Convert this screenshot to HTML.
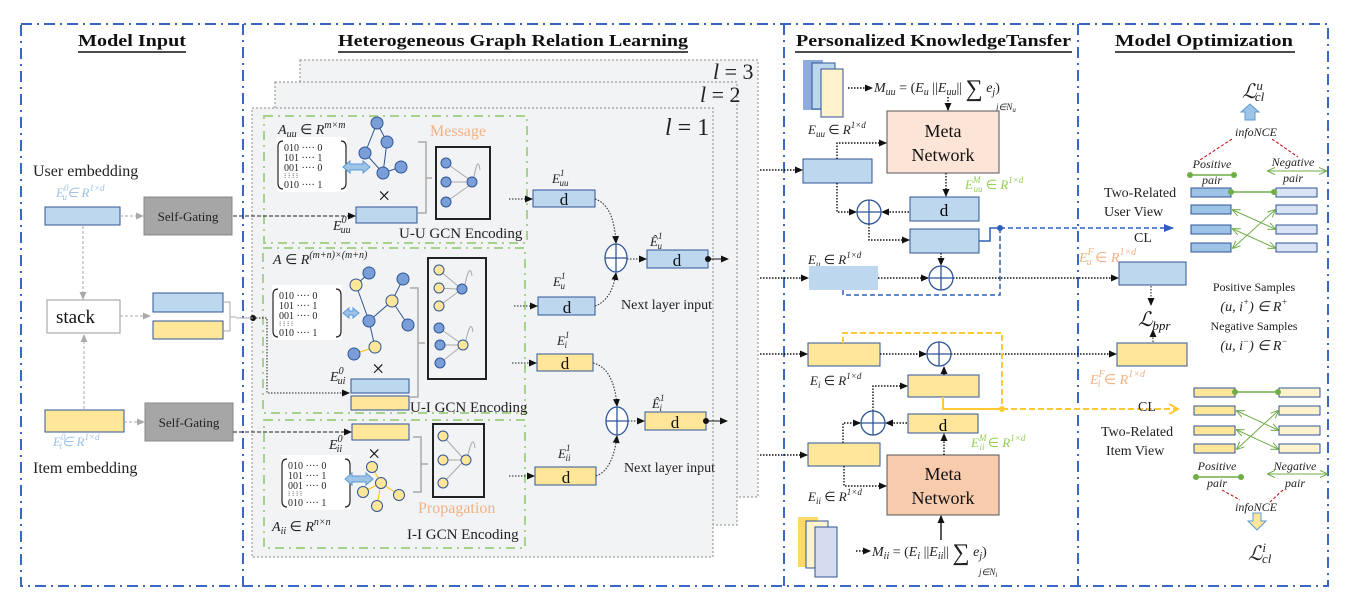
<!DOCTYPE html>
<html><head><meta charset="utf-8"><style>
html,body{margin:0;padding:0;background:#fff;}
svg{display:block;}
text{font-family:"Liberation Serif",serif;}
.it{font-style:italic;}
</style></head><body>
<svg width="1347" height="604" viewBox="0 0 1347 604" xmlns="http://www.w3.org/2000/svg">
<defs>
<marker id="ak" markerWidth="8" markerHeight="8" refX="7" refY="4" orient="auto" markerUnits="userSpaceOnUse"><path d="M0,0.5 L8,4 L0,7.5 z" fill="#111"/></marker>
<marker id="ag" markerWidth="8" markerHeight="8" refX="7" refY="4" orient="auto" markerUnits="userSpaceOnUse"><path d="M0,0.5 L8,4 L0,7.5 z" fill="#aaa"/></marker>
<marker id="ab" markerWidth="10" markerHeight="10" refX="9" refY="5" orient="auto" markerUnits="userSpaceOnUse"><path d="M0,1 L10,5 L0,9 z" fill="#2f5fb8"/></marker>
<marker id="ay" markerWidth="12" markerHeight="12" refX="10" refY="6" orient="auto" markerUnits="userSpaceOnUse"><path d="M1,1 L10,6 L1,11" fill="none" stroke="#ffc936" stroke-width="2"/></marker>
<marker id="agr" markerWidth="8" markerHeight="8" refX="7" refY="4" orient="auto-start-reverse" markerUnits="userSpaceOnUse"><path d="M0,0.5 L8,4 L0,7.5" fill="none" stroke="#70ad47" stroke-width="1"/></marker>
<g id="mat">
<rect x="0" y="0" width="70" height="55" fill="#fff"/>
<path d="M6,4 Q1,4 1,10 L1,46 Q1,52 6,52" fill="none" stroke="#222" stroke-width="1.2"/>
<path d="M64,4 Q69,4 69,10 L69,46 Q69,52 64,52" fill="none" stroke="#222" stroke-width="1.2"/>
<g font-family="Liberation Sans" font-size="10" fill="#222">
<text x="7" y="14">010 ···· 0</text>
<text x="7" y="24">101 ···· 1</text>
<text x="7" y="34">001 ···· 0</text>
<text x="7" y="41" font-size="7">⁝ ⁝ ⁝         ⁝</text>
<text x="7" y="51">010 ···· 1</text>
</g>
</g>
</defs>

<!-- outer panels -->
<g fill="none" stroke="#3a66c4" stroke-width="2" stroke-dasharray="11,5,2,5">
<rect x="21" y="24" width="1307" height="562"/>
<line x1="243" y1="24" x2="243" y2="586"/>
<line x1="784" y1="24" x2="784" y2="586"/>
<line x1="1078" y1="24" x2="1078" y2="586"/>
</g>

<!-- titles -->
<g font-weight="bold" font-size="17" fill="#111">
<text x="78" y="46" textLength="108" lengthAdjust="spacingAndGlyphs">Model Input</text>
<text x="338" y="46" textLength="350" lengthAdjust="spacingAndGlyphs">Heterogeneous Graph Relation Learning</text>
<text x="796" y="46" textLength="275" lengthAdjust="spacingAndGlyphs">Personalized KnowledgeTansfer</text>
<text x="1115" y="46" textLength="178" lengthAdjust="spacingAndGlyphs">Model  Optimization</text>
</g>
<g stroke="#111" stroke-width="1.5">
<line x1="78" y1="52" x2="186" y2="52"/><line x1="338" y1="52" x2="688" y2="52"/>
<line x1="795" y1="52" x2="1072" y2="52"/><line x1="1115" y1="52" x2="1295" y2="52"/>
</g>

<!-- Model input -->
<text x="33" y="176" font-size="16" fill="#222">User embedding</text>
<text x="56" y="197" font-size="13" fill="#9dc3e6" class="it">E<tspan font-size="9" dy="-6">0</tspan><tspan font-size="9" dx="-6" dy="9">u</tspan><tspan dy="-3">∈ R</tspan><tspan font-size="9" dy="-6">1×d</tspan></text>
<rect x="45" y="207" width="75" height="18" fill="#bdd7ee" stroke="#2f5597" stroke-width="1"/>
<rect x="144" y="197" width="88" height="38" fill="#a6a6a6" stroke="#888"/>
<text x="188" y="221" font-size="13" text-anchor="middle" fill="#222">Self-Gating</text>
<line x1="120" y1="216" x2="143" y2="216" stroke="#aaa" stroke-dasharray="3,2" marker-end="url(#ag)"/>
<line x1="83" y1="226" x2="83" y2="299" stroke="#aaa" stroke-dasharray="3,2" marker-end="url(#ag)"/>
<rect x="47" y="300" width="73" height="33" fill="#fff" stroke="#999"/>
<text x="56" y="323" font-size="19" fill="#111">stack</text>
<line x1="120" y1="316" x2="150" y2="316" stroke="#aaa" stroke-dasharray="3,2" marker-end="url(#ag)"/>
<rect x="153" y="293" width="70" height="19" fill="#bdd7ee" stroke="#2f5597"/>
<rect x="153" y="321" width="70" height="18" fill="#ffe699" stroke="#2f5597"/>
<path d="M224,302 L230,302 L230,331 L224,331 M230,317 L236,317" fill="none" stroke="#aaa"/>
<rect x="45" y="410" width="79" height="22" fill="#ffe699" stroke="#2f5597"/>
<line x1="84" y1="409" x2="84" y2="335" stroke="#aaa" stroke-dasharray="3,2" marker-end="url(#ag)"/>
<line x1="124" y1="422" x2="144" y2="422" stroke="#aaa" stroke-dasharray="3,2" marker-end="url(#ag)"/>
<rect x="145" y="403" width="88" height="38" fill="#a6a6a6" stroke="#888"/>
<text x="189" y="427" font-size="13" text-anchor="middle" fill="#222">Self-Gating</text>
<text x="53" y="446" font-size="13" fill="#9dc3e6" class="it">E<tspan font-size="9" dy="-6">0</tspan><tspan font-size="9" dx="-6" dy="9">i</tspan><tspan dy="-3">∈ R</tspan><tspan font-size="9" dy="-6">1×d</tspan></text>
<text x="33" y="473" font-size="16" fill="#222">Item embedding</text>

<!-- layer sheets -->
<rect x="300" y="60" width="458" height="437" fill="#f2f3f5" stroke="#888" stroke-dasharray="2,2"/>
<rect x="275" y="82" width="462" height="443" fill="#f2f3f5" stroke="#888" stroke-dasharray="2,2"/>
<rect x="252" y="108" width="461" height="449" fill="#f2f3f5" stroke="#888" stroke-dasharray="2,2"/>
<text x="713" y="79" font-size="22" class="it" fill="#222">l <tspan font-style="normal">= 3</tspan></text>
<text x="700" y="102" font-size="22" class="it" fill="#222">l <tspan font-style="normal">= 2</tspan></text>
<text x="665" y="135" font-size="24" class="it" fill="#222">l <tspan font-style="normal">= 1</tspan></text>

<g fill="none" stroke="#a9d18e" stroke-width="2" stroke-dasharray="9,5,2,5">
<rect x="264" y="116" width="263" height="127"/>
<rect x="263" y="248" width="262" height="165"/>
<rect x="264" y="420" width="261" height="128"/>
</g>

<!-- U-U -->
<text x="278" y="134" font-size="14" class="it" fill="#222">A<tspan font-size="10" dy="3">uu</tspan><tspan dy="-3" font-style="normal"> ∈ </tspan>R<tspan font-size="10" dy="-6">m×m</tspan></text>
<use href="#mat" x="277" y="137"/>
<g stroke="#2f5597" stroke-width="1"><line x1="377" y1="123" x2="387" y2="142"/><line x1="377" y1="123" x2="365" y2="153"/><line x1="387" y1="142" x2="383" y2="173"/><line x1="365" y1="153" x2="383" y2="173"/><line x1="383" y1="173" x2="401" y2="167"/></g>
<g fill="#7a9fd8" stroke="#2f5597"><circle cx="377" cy="123" r="6"/><circle cx="387" cy="142" r="6"/><circle cx="365" cy="153" r="6"/><circle cx="383" cy="173" r="6"/><circle cx="401" cy="167" r="6"/></g>
<path d="M343,167 L350,161 L350,164 L363,164 L363,161 L370,167 L363,173 L363,170 L350,170 L350,173 Z" fill="#9dc3e6" stroke="#5b9bd5"/>
<text x="378" y="203" font-size="22" fill="#111">×</text>
<text x="430" y="136" font-size="16" fill="#f4b183">Message</text>
<rect x="356" y="207" width="61" height="16" fill="#bdd7ee" stroke="#2f5597"/>
<path d="M418,142 L426,142 L426,213 L418,213 M426,178 L432,178" fill="none" stroke="#aaa" stroke-width="1.5"/>
<rect x="436" y="147" width="54" height="72" fill="none" stroke="#222" stroke-width="2"/>
<g stroke="#aaa"><line x1="446" y1="163" x2="470" y2="180"/><line x1="446" y1="182" x2="466" y2="182"/><line x1="446" y1="202" x2="470" y2="185"/><path d="M474,177 Q478,155 480,170" fill="none"/></g>
<g fill="#7a9fd8" stroke="#2f5597"><circle cx="446" cy="163" r="5"/><circle cx="446" cy="182" r="5"/><circle cx="446" cy="202" r="5"/><circle cx="472" cy="182" r="5"/></g>
<text x="333" y="230" font-size="14" class="it" fill="#222">E<tspan font-size="10" dy="-7">0</tspan><tspan font-size="10" dx="-6" dy="10">uu</tspan></text>
<text x="399" y="238" font-size="15" fill="#222">U-U GCN Encoding</text>
<line x1="233" y1="216" x2="355" y2="216" stroke="#222" stroke-dasharray="4,2" marker-end="url(#ak)"/>

<!-- U-I -->
<text x="273" y="264" font-size="14" class="it" fill="#222">A<tspan font-style="normal"> ∈ </tspan>R<tspan font-size="10" dy="-6">(m+n)×(m+n)</tspan></text>
<use href="#mat" x="272" y="285"/>
<g stroke="#2f5597" stroke-width="1"><line x1="369" y1="273" x2="356" y2="285"/><line x1="356" y1="285" x2="369" y2="321"/><line x1="369" y1="321" x2="392" y2="301"/><line x1="392" y1="301" x2="403" y2="279"/><line x1="392" y1="301" x2="408" y2="325"/><line x1="369" y1="321" x2="375" y2="347"/></g>
<line x1="375" y1="347" x2="354" y2="354" stroke="#ffc000"/>
<g stroke="#2f5597"><circle cx="369" cy="273" r="6" fill="#7a9fd8"/><circle cx="356" cy="285" r="6" fill="#ffe699"/><circle cx="403" cy="279" r="6" fill="#7a9fd8"/><circle cx="392" cy="301" r="6" fill="#ffe699"/><circle cx="369" cy="321" r="6" fill="#7a9fd8"/><circle cx="408" cy="325" r="6" fill="#7a9fd8"/><circle cx="375" cy="347" r="6" fill="#ffe699"/><circle cx="354" cy="354" r="6" fill="#7a9fd8"/></g>
<path d="M343,313 L349,308 L349,311 L353,311 L353,308 L359,313 L353,318 L353,315 L349,315 L349,318 Z" fill="#9dc3e6" stroke="#5b9bd5"/>
<text x="372" y="376" font-size="22" fill="#111">×</text>
<rect x="351" y="379" width="58" height="14" fill="#bdd7ee" stroke="#2f5597"/>
<rect x="351" y="396" width="58" height="14" fill="#ffe699" stroke="#2f5597"/>
<path d="M410,288 L418,288 L418,397 L410,397 M418,343 L425,343" fill="none" stroke="#aaa" stroke-width="1.5"/>
<rect x="428" y="258" width="58" height="121" fill="none" stroke="#222" stroke-width="2"/>
<g stroke="#aaa"><line x1="439" y1="270" x2="458" y2="286"/><line x1="439" y1="288" x2="457" y2="289"/><line x1="439" y1="306" x2="458" y2="292"/><path d="M465,284 Q470,262 472,276" fill="none"/><line x1="439" y1="328" x2="459" y2="342"/><line x1="440" y1="345" x2="458" y2="345"/><line x1="440" y1="363" x2="459" y2="348"/><path d="M466,340 Q471,318 473,332" fill="none"/></g>
<g stroke="#2f5597"><circle cx="439" cy="270" r="5" fill="#ffe699"/><circle cx="439" cy="288" r="5" fill="#ffe699"/><circle cx="439" cy="306" r="5" fill="#ffe699"/><circle cx="462" cy="289" r="5" fill="#7a9fd8"/><circle cx="439" cy="328" r="5" fill="#7a9fd8"/><circle cx="440" cy="345" r="5" fill="#7a9fd8"/><circle cx="440" cy="363" r="5" fill="#7a9fd8"/><circle cx="463" cy="345" r="5" fill="#ffe699"/></g>
<text x="330" y="381" font-size="14" class="it" fill="#222">E<tspan font-size="10" dy="-7">0</tspan><tspan font-size="10" dx="-6" dy="10">ui</tspan></text>
<text x="410" y="412" font-size="15" fill="#222">U-I GCN Encoding</text>
<circle cx="253" cy="318" r="3" fill="#111"/>
<path d="M236,318 L253,318" stroke="#aaa"/>
<path d="M253,318 L267,318 L267,393 L349,393" fill="none" stroke="#222" stroke-dasharray="1.5,1.5" marker-end="url(#ak)"/>

<!-- I-I -->
<line x1="233" y1="432" x2="351" y2="432" stroke="#222" stroke-dasharray="4,2" marker-end="url(#ak)"/>
<rect x="352" y="424" width="57" height="16" fill="#ffe699" stroke="#2f5597"/>
<text x="329" y="449" font-size="14" class="it" fill="#222">E<tspan font-size="10" dy="-7">0</tspan><tspan font-size="10" dx="-6" dy="10">ii</tspan></text>
<text x="368" y="461" font-size="22" fill="#111">×</text>
<use href="#mat" x="281" y="455"/>
<g stroke="#ffc000"><line x1="372" y1="467" x2="381" y2="483"/><line x1="381" y1="483" x2="399" y2="495"/><line x1="381" y1="483" x2="363" y2="492"/><line x1="381" y1="483" x2="377" y2="506"/></g>
<g fill="#ffe699" stroke="#2f5597"><circle cx="372" cy="467" r="5.5"/><circle cx="381" cy="483" r="5.5"/><circle cx="399" cy="495" r="5.5"/><circle cx="363" cy="492" r="5.5"/><circle cx="377" cy="506" r="5.5"/></g>
<path d="M345,479 L352,473 L352,476 L366,476 L366,473 L373,479 L366,485 L366,482 L352,482 L352,485 Z" fill="#9dc3e6" stroke="#5b9bd5"/>
<path d="M413,437 L421,437 L421,492 L413,492 M421,464 L428,464" fill="none" stroke="#aaa" stroke-width="1.5"/>
<rect x="433" y="424" width="51" height="73" fill="none" stroke="#222" stroke-width="2"/>
<g stroke="#aaa"><line x1="443" y1="436" x2="462" y2="457"/><line x1="443" y1="460" x2="461" y2="460"/><line x1="443" y1="483" x2="462" y2="463"/><path d="M468,455 Q473,433 475,448" fill="none"/></g>
<g fill="#ffe699" stroke="#2f5597"><circle cx="443" cy="436" r="5"/><circle cx="443" cy="460" r="5"/><circle cx="443" cy="483" r="5"/><circle cx="466" cy="460" r="5"/></g>
<text x="418" y="513" font-size="16" fill="#f4b183">Propagation</text>
<text x="272" y="531" font-size="14" class="it" fill="#222">A<tspan font-size="10" dy="3">ii</tspan><tspan dy="-3" font-style="normal"> ∈ </tspan>R<tspan font-size="10" dy="-6">n×n</tspan></text>
<text x="407" y="539" font-size="15" fill="#222">I-I GCN Encoding</text>

<!-- middle outputs -->
<g font-size="13" class="it" fill="#222">
<text x="552" y="183">E<tspan font-size="9" dy="-7">1</tspan><tspan font-size="9" dx="-5" dy="10">uu</tspan></text>
<text x="553" y="286">E<tspan font-size="9" dy="-7">1</tspan><tspan font-size="9" dx="-5" dy="10">u</tspan></text>
<text x="557" y="345">E<tspan font-size="9" dy="-7">1</tspan><tspan font-size="9" dx="-5" dy="10">i</tspan></text>
<text x="558" y="458">E<tspan font-size="9" dy="-7">1</tspan><tspan font-size="9" dx="-5" dy="10">ii</tspan></text>
<text x="650" y="246">Ê<tspan font-size="9" dy="-7">1</tspan><tspan font-size="9" dx="-5" dy="10">u</tspan></text>
<text x="652" y="408">Ê<tspan font-size="9" dy="-7">1</tspan><tspan font-size="9" dx="-5" dy="10">i</tspan></text>
</g>
<g stroke="#2f5597">
<rect x="533" y="190" width="62" height="17" fill="#bdd7ee"/>
<rect x="538" y="297" width="57" height="18" fill="#bdd7ee"/>
<rect x="537" y="354" width="56" height="17" fill="#ffe699"/>
<rect x="535" y="467" width="61" height="18" fill="#ffe699"/>
<rect x="647" y="250" width="61" height="18" fill="#bdd7ee"/>
<rect x="645" y="412" width="61" height="18" fill="#ffe699"/>
</g>
<g font-size="17" text-anchor="middle" fill="#111">
<text x="564" y="205">d</text><text x="567" y="313">d</text><text x="565" y="369">d</text><text x="566" y="483">d</text><text x="677" y="266">d</text><text x="675" y="428">d</text>
</g>
<g stroke="#222" stroke-dasharray="1.5,1.5" fill="none">
<line x1="509" y1="199" x2="532" y2="199" marker-end="url(#ak)"/>
<line x1="514" y1="306" x2="537" y2="306" marker-end="url(#ak)"/>
<line x1="512" y1="363" x2="536" y2="363" marker-end="url(#ak)"/>
<line x1="509" y1="476" x2="534" y2="476" marker-end="url(#ak)"/>
<path d="M595,199 Q614,205 616,243" marker-end="url(#ak)"/>
<path d="M595,306 Q612,300 616,273" marker-end="url(#ak)"/>
<path d="M593,363 Q614,368 617,406" marker-end="url(#ak)"/>
<path d="M596,476 Q613,470 617,436" marker-end="url(#ak)"/>
<line x1="627" y1="259" x2="646" y2="259" marker-end="url(#ak)"/>
<line x1="628" y1="421" x2="644" y2="421" marker-end="url(#ak)"/>
</g>
<g fill="#fff" stroke="#2f5597" stroke-width="1.3">
<ellipse cx="616" cy="258" rx="11" ry="14"/><line x1="605" y1="258" x2="627" y2="258"/><line x1="616" y1="244" x2="616" y2="272"/>
<ellipse cx="617" cy="421" rx="11" ry="14"/><line x1="606" y1="421" x2="628" y2="421"/><line x1="617" y1="407" x2="617" y2="435"/>
</g>
<circle cx="708" cy="259" r="3" fill="#111"/><line x1="708" y1="259" x2="728" y2="259" stroke="#111" marker-end="url(#ak)"/>
<circle cx="706" cy="421" r="3" fill="#111"/><line x1="706" y1="421" x2="727" y2="421" stroke="#111" marker-end="url(#ak)"/>
<text x="621" y="309" font-size="14" fill="#222">Next layer input</text>
<text x="624" y="472" font-size="14" fill="#222">Next layer input</text>

<!-- Panel 3 -->
<rect x="803" y="60" width="20" height="50" fill="#8faadc"/>
<rect x="812" y="63" width="23" height="46" fill="#bdd7ee" stroke="#2f5597"/>
<rect x="821" y="69" width="22" height="48" fill="#fff2cc" stroke="#2f5597"/>
<text x="874" y="92" font-size="14" class="it" fill="#222">M<tspan font-size="10" dy="3">uu</tspan><tspan dy="-3" font-style="normal"> = (</tspan>E<tspan font-size="10" dy="3">u</tspan><tspan dy="-3" font-style="normal"> ||</tspan>E<tspan font-size="10" dy="3">uu</tspan><tspan dy="-3" font-style="normal">|| </tspan><tspan font-style="normal" font-size="24" dy="4">∑</tspan><tspan dy="-4"> e</tspan><tspan font-size="10" dy="3">j</tspan><tspan dy="-3" font-style="normal">)</tspan></text>
<text x="996" y="110" font-size="9" class="it" fill="#222">j∈N<tspan font-size="7" dy="2">u</tspan></text>
<rect x="887" y="111" width="112" height="62" fill="#fce4d6" stroke="#555"/>
<text x="943" y="137" font-size="18" text-anchor="middle" fill="#111">Meta</text>
<text x="943" y="161" font-size="18" text-anchor="middle" fill="#111">Network</text>
<text x="808" y="134" font-size="13" class="it" fill="#222">E<tspan font-size="9" dy="3">uu</tspan><tspan dy="-3" font-style="normal"> ∈ </tspan>R<tspan font-size="9" dy="-6">1×d</tspan></text>
<rect x="803" y="159" width="69" height="24" fill="#bdd7ee" stroke="#2f5597"/>
<text x="965" y="189" font-size="13" class="it" fill="#92d050">E<tspan font-size="9" dy="-6">M</tspan><tspan font-size="9" dx="-7" dy="9">uu</tspan><tspan dy="-3" font-style="normal"> ∈ </tspan>R<tspan font-size="9" dy="-6">1×d</tspan></text>
<rect x="910" y="197" width="69" height="24" fill="#bdd7ee" stroke="#2f5597"/>
<text x="944" y="216" font-size="17" text-anchor="middle">d</text>
<rect x="910" y="229" width="69" height="24" fill="#bdd7ee" stroke="#2f5597"/>
<text x="808" y="264" font-size="13" class="it" fill="#222">E<tspan font-size="9" dy="3">u</tspan><tspan dy="-3" font-style="normal"> ∈ </tspan>R<tspan font-size="9" dy="-6">1×d</tspan></text>
<rect x="809" y="266" width="69" height="24" fill="#bdd7ee"/>
<g stroke="#111" stroke-width="1.4" stroke-dasharray="1.5,1.5" fill="none">
<line x1="760" y1="170" x2="802" y2="170" marker-end="url(#ak)"/>
<line x1="760" y1="278" x2="808" y2="278" marker-end="url(#ak)"/>
<line x1="760" y1="354" x2="807" y2="354" marker-end="url(#ak)"/>
<line x1="760" y1="455" x2="807" y2="455" marker-end="url(#ak)"/>
<line x1="848" y1="88" x2="872" y2="88" marker-end="url(#ak)"/>
<line x1="948" y1="97" x2="948" y2="110" marker-end="url(#ak)"/>
<path d="M837,159 L837,143 L886,143" marker-end="url(#ak)"/>
<path d="M837,183 L837,212 L856,212" marker-end="url(#ak)"/>
<line x1="909" y1="212" x2="882" y2="212" marker-end="url(#ak)"/>
<line x1="946" y1="173" x2="946" y2="196" marker-end="url(#ak)"/>
<path d="M869,224 L869,240 L909,240" marker-end="url(#ak)"/>
<line x1="941" y1="253" x2="941" y2="265" marker-end="url(#ak)"/>
<line x1="878" y1="278" x2="928" y2="278" marker-end="url(#ak)"/>
<line x1="953" y1="278" x2="1118" y2="278" marker-end="url(#ak)"/>
</g>
<g fill="#fff" stroke="#2f5597" stroke-width="1.3">
<circle cx="869" cy="212" r="12"/><line x1="857" y1="212" x2="881" y2="212"/><line x1="869" y1="200" x2="869" y2="224"/>
<circle cx="941" cy="278" r="12"/><line x1="929" y1="278" x2="953" y2="278"/><line x1="941" y1="266" x2="941" y2="290"/>
</g>
<path d="M979,241 L990,241 L990,228 L1000,228" fill="none" stroke="#2f5fb8" stroke-width="1.5"/>
<path d="M843,290 L843,295 L1000,295 L1000,230" fill="none" stroke="#2f5fb8" stroke-width="1.5" stroke-dasharray="5,3"/>
<line x1="1000" y1="228" x2="1173" y2="228" stroke="#2f5fb8" stroke-width="1.5" stroke-dasharray="5,3" marker-end="url(#ab)"/>
<circle cx="1000" cy="228" r="3" fill="#2f5fb8"/>

<!-- yellow part -->
<rect x="808" y="343" width="72" height="23" fill="#ffe699" stroke="#2f5597"/>
<text x="810" y="385" font-size="13" class="it" fill="#222">E<tspan font-size="9" dy="3">i</tspan><tspan dy="-3" font-style="normal"> ∈ </tspan>R<tspan font-size="9" dy="-6">1×d</tspan></text>
<rect x="908" y="375" width="71" height="22" fill="#ffe699" stroke="#2f5597"/>
<rect x="908" y="414" width="70" height="19" fill="#ffe699" stroke="#2f5597"/>
<text x="943" y="431" font-size="17" text-anchor="middle">d</text>
<text x="971" y="447" font-size="13" class="it" fill="#92d050">E<tspan font-size="9" dy="-6">M</tspan><tspan font-size="9" dx="-7" dy="9">ii</tspan><tspan dy="-3" font-style="normal"> ∈ </tspan>R<tspan font-size="9" dy="-6">1×d</tspan></text>
<rect x="808" y="443" width="72" height="23" fill="#ffe699" stroke="#2f5597"/>
<rect x="887" y="455" width="112" height="60" fill="#f8cbad" stroke="#555"/>
<text x="943" y="480" font-size="18" text-anchor="middle" fill="#111">Meta</text>
<text x="943" y="504" font-size="18" text-anchor="middle" fill="#111">Network</text>
<text x="808" y="501" font-size="13" class="it" fill="#222">E<tspan font-size="9" dy="3">ii</tspan><tspan dy="-3" font-style="normal"> ∈ </tspan>R<tspan font-size="9" dy="-6">1×d</tspan></text>
<rect x="798" y="517" width="20" height="50" fill="#ffd966"/>
<rect x="806" y="521" width="22" height="47" fill="#fff2cc" stroke="#2f5597"/>
<rect x="815" y="527" width="22" height="50" fill="#d6dcf0" stroke="#2f5597"/>
<text x="872" y="556" font-size="14" class="it" fill="#222">M<tspan font-size="10" dy="3">ii</tspan><tspan dy="-3" font-style="normal"> = (</tspan>E<tspan font-size="10" dy="3">i</tspan><tspan dy="-3" font-style="normal"> ||</tspan>E<tspan font-size="10" dy="3">ii</tspan><tspan dy="-3" font-style="normal">|| </tspan><tspan font-style="normal" font-size="24" dy="4">∑</tspan><tspan dy="-4"> e</tspan><tspan font-size="10" dy="3">j</tspan><tspan dy="-3" font-style="normal">)</tspan></text>
<text x="979" y="575" font-size="9" class="it" fill="#222">j∈N<tspan font-size="7" dy="2">i</tspan></text>
<g stroke="#111" stroke-width="1.4" stroke-dasharray="1.5,1.5" fill="none">
<line x1="880" y1="354" x2="926" y2="354" marker-end="url(#ak)"/>
<line x1="951" y1="354" x2="1116" y2="354" marker-end="url(#ak)"/>
<line x1="944" y1="375" x2="944" y2="367" marker-end="url(#ak)"/>
<path d="M843,443 L843,423 L860,423" marker-end="url(#ak)"/>
<line x1="907" y1="423" x2="886" y2="423" marker-end="url(#ak)"/>
<path d="M873,411 L873,386 L907,386" marker-end="url(#ak)"/>
<line x1="944" y1="455" x2="944" y2="434" marker-end="url(#ak)"/>
<path d="M844,466 L844,486 L886,486" marker-end="url(#ak)"/>
<line x1="856" y1="551" x2="870" y2="551" marker-end="url(#ak)"/>
<line x1="941" y1="540" x2="941" y2="516" stroke-dasharray="none" marker-end="url(#ak)"/>
</g>
<g fill="#fff" stroke="#2f5597" stroke-width="1.3">
<circle cx="939" cy="354" r="12"/><line x1="927" y1="354" x2="951" y2="354"/><line x1="939" y1="342" x2="939" y2="366"/>
<circle cx="873" cy="423" r="12"/><line x1="861" y1="423" x2="885" y2="423"/><line x1="873" y1="411" x2="873" y2="435"/>
</g>
<path d="M843,343 L843,333 L1002,333 L1002,407" fill="none" stroke="#ffc936" stroke-width="2" stroke-dasharray="6,3"/>
<path d="M943,397 L943,409 L1000,409" fill="none" stroke="#ffc936" stroke-width="2"/>
<line x1="1002" y1="409" x2="1178" y2="409" stroke="#ffc936" stroke-width="2" stroke-dasharray="6,3" marker-end="url(#ay)"/>
<circle cx="1002" cy="409" r="3" fill="#ffc936"/>

<!-- Panel 4 -->
<text x="1242" y="98" font-size="20" class="it" fill="#222">ℒ<tspan font-size="13" dy="-8">u</tspan><tspan font-size="13" dx="-8" dy="11">cl</tspan></text>
<path d="M1245,120 L1245,112 L1241,112 L1250,104 L1259,112 L1255,112 L1255,120 Z" fill="#9dc3e6" stroke="#5b9bd5"/>
<text x="1256" y="136" font-size="12" class="it" text-anchor="middle" fill="#222">infoNCE</text>
<g stroke="#c00000" stroke-dasharray="3,2"><line x1="1232" y1="139" x2="1200" y2="160"/><line x1="1272" y1="139" x2="1298" y2="157"/></g>
<text x="1212" y="168" font-size="12" class="it" text-anchor="middle" fill="#222">Positive</text>
<text x="1293" y="166" font-size="12" class="it" text-anchor="middle" fill="#222">Negative</text>
<line x1="1190" y1="175" x2="1234" y2="175" stroke="#70ad47" stroke-width="1.5"/><circle cx="1190" cy="175" r="3" fill="#70ad47"/><circle cx="1234" cy="175" r="3" fill="#70ad47"/>
<line x1="1268" y1="171" x2="1326" y2="171" stroke="#70ad47" marker-start="url(#agr)" marker-end="url(#agr)"/>
<text x="1212" y="184" font-size="12" class="it" text-anchor="middle" fill="#222">pair</text>
<text x="1293" y="182" font-size="12" class="it" text-anchor="middle" fill="#222">pair</text>
<text x="1104" y="197" font-size="14" fill="#222">Two-Related</text>
<text x="1104" y="216" font-size="14" fill="#222">User  View</text>
<text x="1134" y="242" font-size="14" fill="#222">CL</text>
<g stroke="#2f5597"><rect x="1191" y="188" width="40" height="9" fill="#9dc3e6"/><rect x="1191" y="205" width="40" height="9" fill="#9dc3e6"/><rect x="1191" y="225" width="40" height="9" fill="#9dc3e6"/><rect x="1191" y="243" width="40" height="9" fill="#9dc3e6"/>
<rect x="1276" y="188" width="41" height="9" fill="#dae3f3"/><rect x="1276" y="205" width="41" height="9" fill="#dae3f3"/><rect x="1276" y="225" width="41" height="9" fill="#dae3f3"/><rect x="1276" y="243" width="41" height="9" fill="#dae3f3"/></g>
<line x1="1231" y1="192" x2="1276" y2="192" stroke="#70ad47" stroke-width="1.5"/><circle cx="1231" cy="192" r="3" fill="#70ad47"/><circle cx="1274" cy="192" r="3" fill="#70ad47"/>
<g stroke="#70ad47" fill="none"><line x1="1233" y1="210" x2="1275" y2="229" marker-start="url(#agr)" marker-end="url(#agr)"/><line x1="1233" y1="229" x2="1275" y2="248" marker-start="url(#agr)" marker-end="url(#agr)"/><line x1="1233" y1="248" x2="1275" y2="210" marker-start="url(#agr)" marker-end="url(#agr)"/></g>
<text x="1079" y="262" font-size="14" class="it" fill="#f4b183">E<tspan font-size="10" dy="-7">F</tspan><tspan font-size="10" dx="-7" dy="10">u</tspan><tspan dy="-3" font-style="normal"> ∈ </tspan>R<tspan font-size="10" dy="-7">1×d</tspan></text>
<rect x="1119" y="262" width="67" height="23" fill="#bdd7ee" stroke="#2f5597"/>
<line x1="1151" y1="286" x2="1151" y2="305" stroke="#111" stroke-dasharray="1.5,1.5" marker-end="url(#ak)"/>
<text x="1138" y="326" font-size="20" class="it" fill="#111">ℒ<tspan font-size="13" dy="4">bpr</tspan></text>
<line x1="1153" y1="342" x2="1153" y2="330" stroke="#111" stroke-dasharray="1.5,1.5" marker-end="url(#ak)"/>
<rect x="1117" y="343" width="70" height="23" fill="#ffe699" stroke="#2f5597"/>
<text x="1090" y="384" font-size="14" class="it" fill="#f4b183">E<tspan font-size="10" dy="-7">F</tspan><tspan font-size="10" dx="-7" dy="10">i</tspan><tspan dy="-3" font-style="normal"> ∈ </tspan>R<tspan font-size="10" dy="-7">1×d</tspan></text>
<g font-size="12" text-anchor="middle" fill="#222">
<text x="1254" y="291">Positive Samples</text>
<text x="1254" y="311" font-size="14" class="it">(u, i<tspan font-size="9" dy="-6">+</tspan><tspan dy="6">) ∈ R</tspan><tspan font-size="9" dy="-6">+</tspan></text>
<text x="1254" y="330">Negative Samples</text>
<text x="1254" y="350" font-size="14" class="it">(u, i<tspan font-size="9" dy="-6">−</tspan><tspan dy="6">) ∈ R</tspan><tspan font-size="9" dy="-6">−</tspan></text>
</g>
<g stroke="#2f5597"><rect x="1194" y="388" width="41" height="9" fill="#ffe699"/><rect x="1194" y="406" width="41" height="9" fill="#ffe699"/><rect x="1194" y="426" width="41" height="9" fill="#ffe699"/><rect x="1194" y="444" width="41" height="9" fill="#ffe699"/>
<rect x="1279" y="388" width="41" height="9" fill="#fff2cc"/><rect x="1279" y="406" width="41" height="9" fill="#fff2cc"/><rect x="1279" y="426" width="41" height="9" fill="#fff2cc"/><rect x="1279" y="444" width="41" height="9" fill="#fff2cc"/></g>
<line x1="1235" y1="392" x2="1279" y2="392" stroke="#70ad47" stroke-width="1.5"/><circle cx="1235" cy="392" r="3" fill="#70ad47"/><circle cx="1278" cy="392" r="3" fill="#70ad47"/>
<g stroke="#70ad47" fill="none"><line x1="1237" y1="411" x2="1278" y2="430" marker-start="url(#agr)" marker-end="url(#agr)"/><line x1="1237" y1="430" x2="1278" y2="449" marker-start="url(#agr)" marker-end="url(#agr)"/><line x1="1237" y1="449" x2="1278" y2="411" marker-start="url(#agr)" marker-end="url(#agr)"/></g>
<text x="1138" y="411" font-size="14" fill="#222">CL</text>
<text x="1101" y="436" font-size="14" fill="#222">Two-Related</text>
<text x="1106" y="455" font-size="14" fill="#222">Item  View</text>
<text x="1217" y="470" font-size="12" class="it" text-anchor="middle" fill="#222">Positive</text>
<text x="1295" y="470" font-size="12" class="it" text-anchor="middle" fill="#222">Negative</text>
<line x1="1196" y1="477" x2="1241" y2="477" stroke="#70ad47" stroke-width="1.5"/><circle cx="1196" cy="477" r="3" fill="#70ad47"/><circle cx="1241" cy="477" r="3" fill="#70ad47"/>
<line x1="1268" y1="474" x2="1327" y2="474" stroke="#70ad47" marker-start="url(#agr)" marker-end="url(#agr)"/>
<text x="1217" y="487" font-size="12" class="it" text-anchor="middle" fill="#222">pair</text>
<text x="1295" y="487" font-size="12" class="it" text-anchor="middle" fill="#222">pair</text>
<g stroke="#c00000" stroke-dasharray="3,2"><line x1="1222" y1="490" x2="1240" y2="500"/><line x1="1283" y1="490" x2="1270" y2="502"/></g>
<text x="1256" y="511" font-size="12" class="it" text-anchor="middle" fill="#222">infoNCE</text>
<path d="M1253,513 L1253,521 L1248,521 L1257,530 L1266,521 L1261,521 L1261,513 Z" fill="#ffe699" stroke="#5b9bd5"/>
<text x="1248" y="560" font-size="20" class="it" fill="#222">ℒ<tspan font-size="13" dy="-8">i</tspan><tspan font-size="13" dx="-4" dy="11">cl</tspan></text>
</svg>
</body></html>
